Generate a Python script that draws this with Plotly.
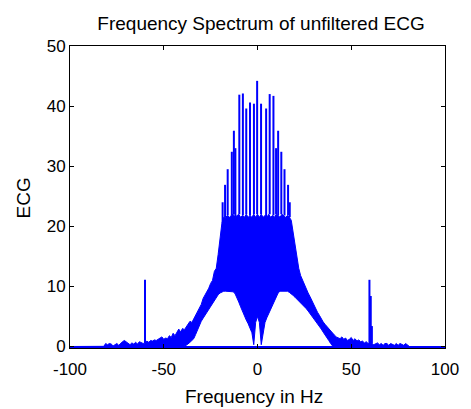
import plotly.graph_objects as go

# Frequency grid (Hz), 1 Hz steps
freq = list(range(-100, 101))

# Upper envelope of the dense spectrum mass (values at each Hz)
upper = (
    [0.0] * 19  # -100 .. -82
    + [0.5, 0.3, 0.5, 0.4, 0.1, 0.3, 0.5, 0.2, 0.6, 0.8,  # -81 .. -72
       1.0, 0.8, 0.5, 0.3, 0.6, 0.4, 0.7, 0.4, 0.8, 0.6,  # -71 .. -62
       0.5, 0.6, 0.9, 0.7, 1.0, 0.9, 1.1, 1.0, 1.2, 1.3,  # -61 .. -52
       1.6, 1.2, 1.4, 1.3, 1.8, 1.5, 2.2, 1.8, 2.5, 2.9,  # -51 .. -42
       2.4, 3.0, 2.8, 3.2, 3.6, 4.2, 4.0, 4.6, 5.3, 5.9,  # -41 .. -32
       6.6, 7.0, 8.0, 8.6, 9.0, 9.7, 10.5, 11.0, 12.5, 13.0,  # -31 .. -22
       15.3, 18.0, 20.5, 21.5, 21.5, 21.8, 21.5, 21.8, 22.0, 21.5,  # -21 .. -12
       21.8, 22.0, 21.5, 21.8, 21.5, 22.0, 21.5, 21.8, 21.5, 22.0,  # -11 .. -2
       21.5]  # -1
    + [22.0]  # 0
    + [21.5, 22.0, 21.5, 21.8, 21.5, 22.0, 21.5, 21.8, 21.5, 22.0,  # 1 .. 10
       21.8, 21.5, 22.0, 21.8, 21.5, 21.8, 21.5, 21.0, 19.0, 16.5,  # 11 .. 20
       15.0, 13.0, 11.8, 11.0, 10.3, 9.5, 8.9, 8.3, 7.6, 7.0,  # 21 .. 30
       6.3, 5.7, 5.2, 4.6, 4.1, 3.7, 3.3, 2.9, 2.6, 2.3,  # 31 .. 40
       1.9, 1.6, 1.4, 1.3, 1.6, 1.2, 1.4, 1.0, 1.2, 1.5,  # 41 .. 50
       1.0, 1.3, 0.9, 1.1, 0.8, 0.9, 0.6, 0.8, 0.5, 0.5,  # 51 .. 60
       0.5, 0.3, 0.4, 0.6, 0.3, 0.5, 0.2, 0.5, 0.5, 0.2,  # 61 .. 70
       0.5, 0.3, 0.2, 0.5, 0.2, 0.5, 0.4, 0.2, 0.5, 0.2]  # 71 .. 80
    + [0.0] * 20  # 81 .. 100
)

# Lower envelope of the dense spectrum mass (white arch underneath)
lower = (
    [0.0] * 61  # -100 .. -40
    + [0.1, 0.2, 0.4, 0.7, 1.0, 1.3, 2.0, 2.8, 3.6, 4.2,  # -39 .. -30
       4.7, 5.2, 5.6, 6.1, 6.6, 7.0, 7.6, 8.1, 8.6, 8.9,  # -29 .. -20
       9.1, 9.2, 9.2, 9.2, 9.2, 9.2, 9.1, 8.8, 8.2, 7.4,  # -19 .. -10
       6.6, 5.8, 5.0, 4.4, 3.8, 3.0, 2.3, 0.3, 4.0]  # -9 .. -1
    + [5.0]  # 0
    + [4.0, 0.3, 2.5, 4.0, 4.8, 5.5, 6.3, 7.0, 7.8, 8.5,  # 1 .. 10
       8.9, 9.2, 9.2, 9.2, 9.2, 9.2, 9.0, 8.8, 8.5, 8.2,  # 11 .. 20
       7.9, 7.5, 7.2, 7.0, 6.6, 6.3, 5.9, 5.5, 5.0, 4.6,  # 21 .. 30
       4.2, 3.8, 3.3, 2.9, 2.4, 2.0, 1.5, 1.0, 0.5, 0.1]  # 31 .. 40
    + [0.0] * 60  # 41 .. 100
)

# Tall harmonic spikes and 60 Hz mains peaks
spike_freq = [-60.0, -18.6, -17.3, -15.9, -13.7, -12.6, -11.8, -9.7, -7.8, -6.0,
              -4.0, -1.9, -0.2, 1.9, 4.6, 6.5, 8.5, 9.9, 11.0, 12.7,
              14.4, 16.3, 17.2, 59.7, 60.4, 61.0]
spike_height = [11.1, 24.0, 26.9, 29.5, 32.4, 35.9, 33.0, 41.9, 42.1, 39.6,
                40.6, 40.4, 44.2, 40.4, 39.6, 42.0, 41.7, 33.0, 35.9, 32.4,
                29.5, 26.9, 24.0, 11.1, 8.4, 3.4]

x_ticks = [-100, -50, 0, 50, 100]
x_tick_labels = ["-100", "-50", "0", "50", "100"]
y_ticks = [0, 10, 20, 30, 40, 50]
y_tick_labels = ["0", "10", "20", "30", "40", "50"]

BLUE = "#0000FF"
FONT = "Liberation Sans"

assert len(upper) == len(freq) and len(lower) == len(freq)

fig = go.Figure()
fig.add_trace(go.Scatter(x=freq, y=lower, mode="lines",
                         line=dict(color=BLUE, width=1), hoverinfo="skip"))
fig.add_trace(go.Scatter(x=freq, y=upper, mode="lines", fill="tonexty",
                         fillcolor=BLUE, line=dict(color=BLUE, width=1),
                         hoverinfo="skip"))

sx, sy = [], []
for f, h in zip(spike_freq, spike_height):
    base = upper[freq.index(int(round(f)))]
    sx += [f, f, None]
    sy += [base, h, None]
fig.add_trace(go.Scatter(x=sx, y=sy, mode="lines",
                         line=dict(color=BLUE, width=2), hoverinfo="skip"))

axis_common = dict(showline=True, linecolor="black", linewidth=1, mirror="ticks",
                   ticks="inside", ticklen=4, tickcolor="black", showgrid=False,
                   tickfont=dict(family=FONT, size=17, color="black"))

fig.update_layout(
    width=471, height=409,
    margin=dict(l=70, r=15, t=46, b=61),
    paper_bgcolor="white", plot_bgcolor="white",
    showlegend=False,
    title=dict(text="Frequency Spectrum of unfiltered ECG",
               font=dict(family=FONT, size=19, color="black"),
               x=261 / 471, xanchor="center", xref="container",
               y=1 - 23 / 409, yanchor="middle", yref="container"),
    xaxis=dict(range=[-100, 100], tickvals=x_ticks, ticktext=x_tick_labels,
               zeroline=False, ticklabelstandoff=6, **axis_common),
    yaxis=dict(range=[-0.25, 50], tickvals=y_ticks, ticktext=y_tick_labels,
               zeroline=True, zerolinecolor=BLUE, zerolinewidth=2, **axis_common),
    annotations=[
        dict(text="Frequency in Hz", xref="paper", yref="paper", x=0.49, y=0,
             yshift=-48, showarrow=False, xanchor="center", yanchor="middle",
             font=dict(family=FONT, size=19, color="black")),
        dict(text="ECG", xref="paper", yref="paper", x=0, y=0.495, xshift=-46,
             textangle=-90, showarrow=False, xanchor="center", yanchor="middle",
             font=dict(family=FONT, size=19, color="black")),
    ],
)

fig.write_html("out.html")
